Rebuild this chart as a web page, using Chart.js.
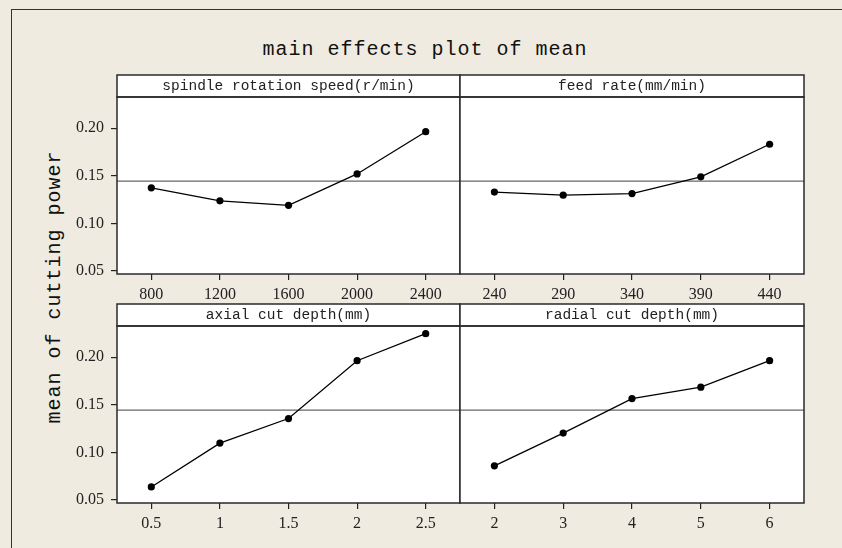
<!DOCTYPE html>
<html>
<head>
<meta charset="utf-8">
<script src="https://cdn.jsdelivr.net/npm/chart.js@4/dist/chart.umd.min.js"></script>
<style>
html,body{margin:0;padding:0;background:#EFEBE1;}
body{width:842px;height:548px;position:relative;overflow:hidden;}
#frame{position:absolute;left:11px;top:9px;width:900px;height:600px;border-left:1.5px solid #333;border-top:1.5px solid #333;}
#title{position:absolute;left:0;width:850px;top:40px;text-align:center;font:20px/20px "Liberation Mono",monospace;letter-spacing:1px;color:#111;white-space:nowrap;}
#ylab{position:absolute;left:-95px;top:277px;width:300px;height:20px;text-align:center;font:20px/20px "Liberation Mono",monospace;letter-spacing:1px;color:#111;transform:rotate(-90deg);white-space:nowrap;}
.panel{position:absolute;}
.panel canvas{display:block;}
</style>
</head>
<body>
<div id="frame"></div>
<div id="title">main effects plot of mean</div>
<div id="ylab">mean of cutting power</div>
<div class="panel" id="p1"><canvas id="c1"></canvas></div>
<div class="panel" id="p2"><canvas id="c2"></canvas></div>
<div class="panel" id="p3"><canvas id="c3"></canvas></div>
<div class="panel" id="p4"><canvas id="c4"></canvas></div>
<script>
// ---- data ----
const speedLabels  = ['800','1200','1600','2000','2400'];
const speedMeans   = [0.1374, 0.1237, 0.1190, 0.1520, 0.1964];
const feedLabels   = ['240','290','340','390','440'];
const feedMeans    = [0.1329, 0.1297, 0.1314, 0.1490, 0.1832];
const axialLabels  = ['0.5','1','1.5','2','2.5'];
const axialMeans   = [0.0637, 0.1098, 0.1356, 0.1964, 0.2248];
const radialLabels = ['2','3','4','5','6'];
const radialMeans  = [0.0859, 0.1203, 0.1566, 0.1686, 0.1964];
const panelHeaders = ['spindle rotation speed(r/min)','feed rate(mm/min)','axial cut depth(mm)','radial cut depth(mm)'];
const yTickValues  = [0.05, 0.10, 0.15, 0.20];
const yTickLabels  = ['0.05','0.10','0.15','0.20'];
const grandMean    = 0.1445;
const yMin = 0.0468, yMax = 0.2329;

const MONO = 'Liberation Mono';
const SERIF = 'Liberation Serif';

const panelFrame = {
  id: 'panelFrame',
  beforeDraw(chart) {
    const {ctx, chartArea: a} = chart;
    const t = chart.titleBlock;
    ctx.save();
    ctx.fillStyle = '#ffffff';
    ctx.fillRect(a.left, t.top, a.right - a.left, a.bottom - t.top);
    ctx.restore();
  },
  beforeDatasetsDraw(chart) {
    const {ctx, chartArea: a, scales} = chart;
    const y = scales.y.getPixelForValue(grandMean);
    ctx.save();
    ctx.strokeStyle = '#666';
    ctx.lineWidth = 1.3;
    ctx.beginPath();
    ctx.moveTo(a.left, y);
    ctx.lineTo(a.right, y);
    ctx.stroke();
    ctx.restore();
  },
  afterDraw(chart) {
    const {ctx, chartArea: a} = chart;
    const t = chart.titleBlock;
    ctx.save();
    ctx.strokeStyle = '#2a2a2a';
    ctx.lineWidth = 1.5;
    ctx.strokeRect(a.left, t.top, a.right - a.left, a.top - t.top);
    ctx.strokeRect(a.left, a.top, a.right - a.left, a.bottom - a.top);
    ctx.restore();
  }
};

function makePanel(n, header, labels, values, showY, rowTop) {
  const div = document.getElementById('p' + n);
  const canvas = document.getElementById('c' + n);
  const left = showY ? 60 : 459;
  const width = showY ? 401 : 346;
  const height = 230;
  div.style.left = left + 'px';
  div.style.top = (rowTop - 1) + 'px';
  canvas.width = width; canvas.height = height;
  canvas.style.width = width + 'px'; canvas.style.height = height + 'px';

  new Chart(canvas, {
    type: 'line',
    data: {
      labels: labels,
      datasets: [{
        data: values,
        borderColor: '#000',
        borderWidth: 1.3,
        pointRadius: 3.6,
        pointBackgroundColor: '#000',
        pointBorderColor: '#000',
        pointBorderWidth: 0,
        tension: 0,
        fill: false
      }]
    },
    options: {
      responsive: false,
      animation: false,
      devicePixelRatio: 1,
      layout: {autoPadding: false, padding: {top: 1, right: 1, left: showY ? 0 : 1, bottom: 0}},
      plugins: {
        legend: {display: false},
        tooltip: {enabled: false},
        title: {
          display: true,
          text: header,
          fullSize: false,
          color: '#222',
          font: {family: MONO, size: 14.5, weight: 'normal', lineHeight: '16px'},
          padding: {top: 3, bottom: 3}
        }
      },
      scales: {
        x: {
          type: 'category',
          offset: true,
          afterFit(scale) { scale.height = 30; scale.paddingLeft = 0; scale.paddingRight = 0; },
          grid: {drawOnChartArea: false, drawTicks: true, tickLength: 6, color: '#222', lineWidth: 1.2, offset: false},
          border: {display: false},
          ticks: {color: '#222', padding: 5, maxRotation: 0, autoSkip: false, font: {family: SERIF, size: 16}}
        },
        y: {
          type: 'linear',
          display: showY,
          min: yMin,
          max: yMax,
          afterFit(scale) { if (showY) scale.width = 57; },
          afterBuildTicks(scale) { scale.ticks = yTickValues.map(v => ({value: v})); },
          grid: {drawOnChartArea: false, drawTicks: true, tickLength: 6, color: '#222', lineWidth: 1.2},
          border: {display: false},
          ticks: {
            color: '#222', padding: 7,
            font: {family: SERIF, size: 16},
            callback: (v) => { const i = yTickValues.indexOf(v); return i >= 0 ? yTickLabels[i] : ''; }
          }
        }
      }
    },
    plugins: [panelFrame]
  });
}

makePanel(1, panelHeaders[0], speedLabels, speedMeans, true, 75);
makePanel(2, panelHeaders[1], feedLabels, feedMeans, false, 75);
makePanel(3, panelHeaders[2], axialLabels, axialMeans, true, 304);
makePanel(4, panelHeaders[3], radialLabels, radialMeans, false, 304);
</script>
</body>
</html>
